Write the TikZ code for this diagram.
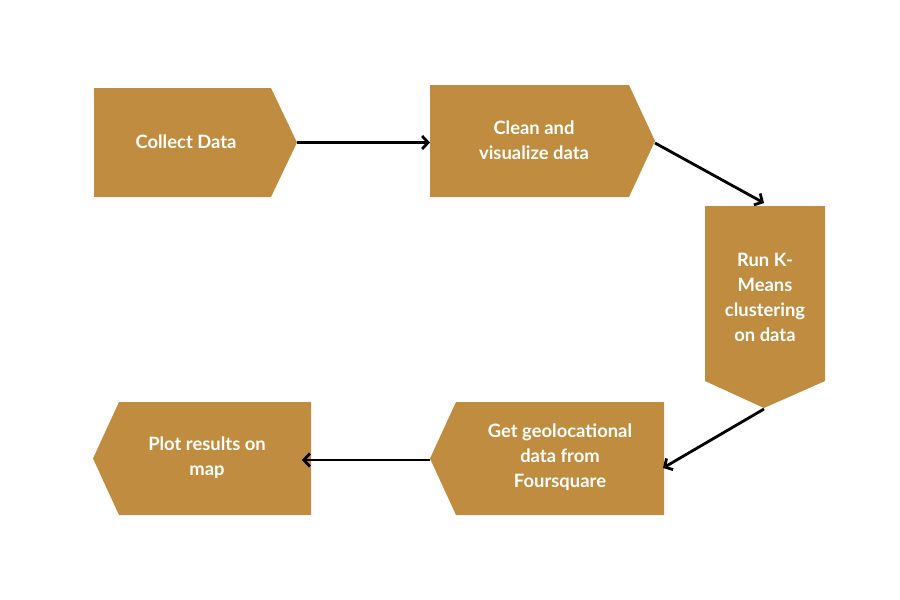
\documentclass[tikz,border=0pt]{standalone}
\usepackage{fontspec}
\setmainfont{Lato}
\usetikzlibrary{arrows.meta}
\definecolor{gold}{HTML}{BF8C40}
\tikzset{
  stepshape/.style={fill=gold, draw=none},
  steptext/.style={text=white, align=center, font=\bfseries\fontsize{18.4}{25}\selectfont, inner sep=0pt},
  flow/.style={draw=black, line width=2.8pt, -{Straight Barb[length=6pt,width=13pt]}}
}
\begin{document}
\begin{tikzpicture}[x=1pt,y=-1pt]
\useasboundingbox[fill=white] (0,0) rectangle (900,600);
% shapes
\fill[stepshape] (94,88) -- (271,88) -- (297,142.5) -- (271,197) -- (94,197) -- cycle;
\fill[stepshape] (430,85) -- (629,85) -- (655,141) -- (629,197) -- (430,197) -- cycle;
\fill[stepshape] (705,206) -- (825,206) -- (825,381) -- (764,408) -- (705,381) -- cycle;
\fill[stepshape] (664,402) -- (456,402) -- (430,458.5) -- (456,515) -- (664,515) -- cycle;
\fill[stepshape] (311,402) -- (119,402) -- (93,458.5) -- (119,515) -- (311,515) -- cycle;
% texts
\node[steptext] (t1) at (186,142) {Collect Data};
\node[steptext] (t2) at (534,140.5) {Clean and\\visualize data};
\node[steptext] (t3) at (765,297) {Run K-\\Means\\clustering\\on data};
\node[steptext] (t4) at (560,457) {Get geolocational\\data from\\Foursquare};
\node[steptext] (t5) at (207,457.5) {Plot results on\\map};
% connector anchors
\coordinate (a1s) at (297,142.5);
\coordinate (a1e) at (430,142.5);
\coordinate (a2s) at (655,143);
\coordinate (a2e) at (764,203);
\coordinate (a3s) at (764,409);
\coordinate (a3e) at (663,468);
\coordinate (a4s) at (430,460);
\coordinate (a4e) at (302,460);
\draw[flow] (a1s) -- (a1e);
\draw[flow] (a2s) -- (a2e);
\draw[flow] (a3s) -- (a3e);
\draw[flow] (a4s) -- (a4e);
\end{tikzpicture}
\end{document}
